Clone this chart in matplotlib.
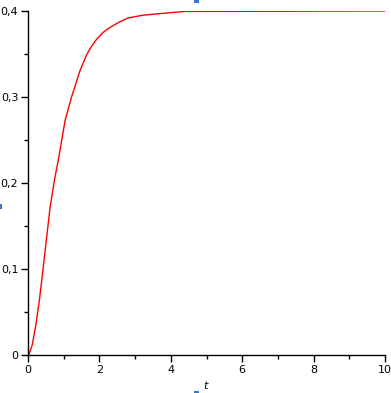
import matplotlib
matplotlib.use("Agg")
import matplotlib.pyplot as plt
from matplotlib.ticker import MultipleLocator, FuncFormatter
from matplotlib.patches import Rectangle

# values
t = [0.0, 0.03, 0.12, 0.22, 0.32, 0.43, 0.52, 0.62, 0.74, 0.88, 1.04, 1.22,
     1.46, 1.64, 1.78, 1.92, 2.10, 2.30, 2.55, 2.81, 3.20, 3.70, 4.40, 10.0]
y = [0.0, 0.001, 0.012, 0.035, 0.064, 0.103, 0.136, 0.172, 0.203, 0.234, 0.273, 0.300,
     0.331, 0.349, 0.359, 0.367, 0.375, 0.381, 0.387, 0.392, 0.395, 0.397, 0.3995, 0.4]

x_ticks = [0, 2, 4, 6, 8, 10]
y_ticks = [0, 0.1, 0.2, 0.3, 0.4]

W, H = 391, 393
fig = plt.figure(figsize=(W / 100, H / 100), dpi=100)
ax = fig.add_axes([28 / W, (H - 355) / H, (385 - 28) / W, (355 - 11) / H])

ax.plot(t, y, color="#ff0000", lw=1.0)

ax.set_xlim(0, 10)
ax.set_ylim(0, 0.4)
for s in ("top", "right"):
    ax.spines[s].set_visible(False)
for s in ("left", "bottom"):
    ax.spines[s].set_linewidth(1.0)

ax.set_xticks(x_ticks)
ax.set_yticks(y_ticks)
ax.xaxis.set_minor_locator(MultipleLocator(1))
ax.yaxis.set_minor_locator(MultipleLocator(0.05))

def comma(v, pos):
    if abs(v) < 1e-9:
        return "0"
    s = ("%g" % round(v, 3))
    return s.replace(".", ",")

ax.xaxis.set_major_formatter(FuncFormatter(comma))
ax.yaxis.set_major_formatter(FuncFormatter(comma))
ax.tick_params(which="major", length=5, width=1, labelsize=8, pad=2)
ax.tick_params(which="minor", length=3, width=1)

fig.text(205 / W, 1 - 386 / H, "t", fontsize=8, style="italic", ha="center", va="center")

# little blue selection handles
for (x0, y0, w, h) in [(194, 0, 5, 3), (0, 204, 2, 5), (194, 391, 5, 2)]:
    fig.patches.append(Rectangle((x0 / W, 1 - (y0 + h) / H), w / W, h / H,
                                 transform=fig.transFigure, color="#3a74d0", lw=0))

fig.savefig("out.png", dpi=100)
